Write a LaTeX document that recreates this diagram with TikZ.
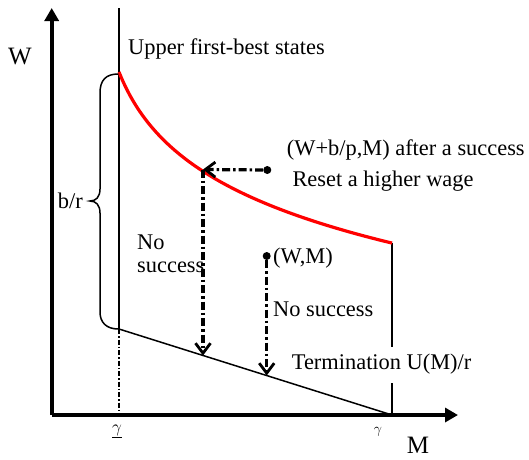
\documentclass[tikz,border=0pt]{standalone}
\usepackage{fontspec}
\setmainfont{Liberation Serif}
\usetikzlibrary{arrows.meta}
\begin{document}
\begin{tikzpicture}[x=1pt,y=-1pt,
  lbl/.style={font=\fontsize{22.4}{26}\selectfont, inner sep=0pt},
  biglbl/.style={font=\fontsize{25}{29}\selectfont, inner sep=0pt},
  axisline/.style={line width=3.8pt, -{Triangle[length=13pt,width=14pt]}},
  thinline/.style={line width=1.5pt},
  ddline/.style={line width=3.2pt, dash pattern=on 8pt off 3pt on 2.5pt off 3pt},
  ddarrow/.style={ddline, -{Straight Barb[length=10pt,width=15pt,line width=2.8pt]}},
  thindd/.style={line width=1.3pt, dash pattern=on 5pt off 2pt on 1.5pt off 2pt},
  dot/.style={circle, fill=black, inner sep=0pt, minimum size=8pt},
  redcurve/.style={red, line width=3.2pt}
]
\useasboundingbox (0,0) rectangle (529,459);

% coordinates
\coordinate (O) at (51.7,415);
\coordinate (Ytop) at (51.7,8);
\coordinate (Xend) at (458,415);
\coordinate (G1top) at (119,8);
\coordinate (G1mid) at (119,329);
\coordinate (G1bot) at (119,415);
\coordinate (Rend) at (392,242.7);
\coordinate (G2gapA) at (392,347);
\coordinate (G2gapB) at (392,383);
\coordinate (G2bot) at (392,415);
\coordinate (P) at (203,169.5);
\coordinate (Pdown) at (203,355.5);
\coordinate (WMdown) at (266.7,375.5);

% axes
\draw[axisline] (O) -- (Ytop);
\draw[axisline] (O) -- (Xend);

% vertical line at underline gamma
\draw[thinline] (G1top) -- (G1mid);
\draw[thindd] (G1mid) -- (G1bot);

% termination line
\draw[thinline] (G1mid) -- (G2bot);

% vertical line at gamma
\draw[thinline] (Rend) -- (G2gapA);
\draw[thinline] (G2gapB) -- (G2bot);

% red curve
\draw[redcurve] plot[domain=119:392, samples=80, smooth] (\x, {-173.8+73*ln(\x-90)});

% brace
\draw[thinline] (118.3,74) .. controls (106,74) and (100,80) .. (100,93) -- (100,189)
  .. controls (100,197) and (96,201) .. (90,201)
  .. controls (96,201) and (100,205) .. (100,213) -- (100,312)
  .. controls (100,322) and (106,329) .. (118.3,329);

% dots and arrows
\node[dot] (S) at (267.3,170) {};
\node[dot] (WM) at (266.7,256) {};
\draw[ddarrow] (S) -- (P);
\draw[ddarrow] (P) -- (Pdown);
\draw[ddarrow] (WM) -- (WMdown);

% labels
\node[biglbl, anchor=base] (Wl) at (20,64) {W};
\node[biglbl, anchor=base] (Ml) at (418,453) {M};
\node[font=\fontsize{19}{21}\selectfont, inner sep=0pt] (g1) at (117,431) {\underline{$\gamma$}};
\node[font=\fontsize{15}{17}\selectfont, inner sep=0pt] (g2) at (378,432) {$\gamma$};
\node[lbl, anchor=base east] (br) at (83,208) {b/r};
\node[lbl, anchor=base west] (up) at (128,54) {Upper first-best states};
\node[lbl, anchor=base west] (succ) at (286.7,155) {(W+b/p,M) after a success};
\node[lbl, anchor=base west] (reset) at (292.3,186.7) {Reset a higher wage};
\node[lbl, anchor=base west] (no1) at (137,249) {No};
\node[lbl, anchor=base west] (no2) at (137,272) {success};
\node[lbl, anchor=base west] (wm) at (273,263.5) {(W,M)};
\node[lbl, anchor=base west] (no3) at (273,316.7) {No success};
\node[lbl, anchor=base west] (term) at (291.7,369.3) {Termination U(M)/r};
\end{tikzpicture}
\end{document}
